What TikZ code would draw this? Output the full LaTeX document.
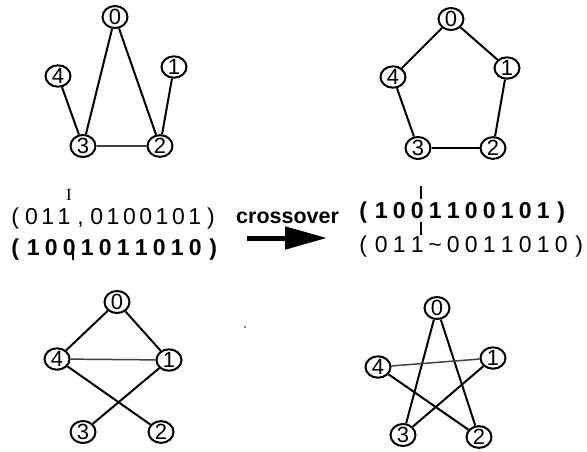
\documentclass[tikz,border=0pt]{standalone}
\usepackage{fontspec}
\setmainfont{Liberation Sans}
\newfontfamily\serifI{Liberation Serif}
\usetikzlibrary{arrows.meta,shapes.geometric}
\ExplSyntaxOn
\NewDocumentCommand\spreadchars{mm}{\tl_map_inline:nn{#2}{\makebox[#1][c]{##1}}}
\ExplSyntaxOff
\tikzset{
  vtx/.style={ellipse, draw, line width=2pt, minimum width=25pt, minimum height=20pt,
    inner sep=0pt, font=\fontsize{22}{22}\selectfont},
  edge/.style={line width=2pt},
  faint/.style={line width=1.5pt, black!75},
  bits/.style={inner sep=0pt, anchor=base west},
  lightbits/.style={bits, font=\fontsize{23}{23}\selectfont},
  boldbits/.style={bits, font=\bfseries\fontsize{23}{23}\selectfont},
  tick/.style={line width=1.8pt},
}
\begin{document}
\begin{tikzpicture}[x=1pt,y=-1pt]
\useasboundingbox (0,0) rectangle (587,451);
% ---- top-left graph
\node[vtx] (a0) at (115,17) {0};
\node[vtx] (a1) at (174,67) {1};
\node[vtx] (a2) at (160,146) {2};
\node[vtx] (a3) at (83,146) {3};
\node[vtx] (a4) at (58,76) {4};
\draw[edge] (a0) -- (a3);
\draw[edge] (a0) -- (a2);
\draw[edge] (a4) -- (a3);
\draw[edge] (a1) -- (a2);
\draw[faint] (a3) -- (a2);
% ---- top-right graph
\node[vtx] (b0) at (451,19) {0};
\node[vtx] (b1) at (507,68) {1};
\node[vtx] (b2) at (493,148) {2};
\node[vtx] (b3) at (418,148) {3};
\node[vtx] (b4) at (393,77) {4};
\draw[edge] (b0) -- (b1);
\draw[edge] (b0) -- (b4);
\draw[edge] (b4) -- (b3);
\draw[edge] (b3) -- (b2);
\draw[edge] (b2) -- (b1);
% ---- bottom-left graph
\node[vtx] (c0) at (117,302) {0};
\node[vtx] (c1) at (169,360) {1};
\node[vtx] (c2) at (161,432) {2};
\node[vtx] (c3) at (83,432) {3};
\node[vtx] (c4) at (57,359) {4};
\draw[edge] (c0) -- (c4);
\draw[edge] (c0) -- (c1);
\draw[faint] (c4) -- (c1);
\draw[edge] (c4) -- (c2);
\draw[edge] (c1) -- (c3);
\fill (245,327) circle (0.8pt);
% ---- bottom-right graph
\node[vtx] (d0) at (437,308) {0};
\node[vtx] (d1) at (493,358) {1};
\node[vtx] (d2) at (479,437) {2};
\node[vtx] (d3) at (403,435) {3};
\node[vtx] (d4) at (378,367) {4};
\draw[edge] (d0) -- (d3);
\draw[edge] (d0) -- (d2);
\draw[faint] (d4) -- (d1);
\draw[edge] (d4) -- (d2);
\draw[edge] (d1) -- (d3);
% ---- strings
\node[lightbits] (l1) at (6.8,224) {\spreadchars{16.33pt}{(011,0100101)}};
\node[boldbits] (l2) at (6,255) {\spreadchars{18pt}{(1001011010)}};
\node[font=\serifI\fontsize{17}{17}\selectfont, inner sep=0pt] (lI) at (69,195) {I};
\coordinate (lt1) at (73,247);
\coordinate (lt2) at (73,260);
\draw[tick] (lt1) -- (lt2);
\node[font=\bfseries\fontsize{21.5}{21.5}\selectfont, inner sep=0pt, anchor=base west] (xo) at (236,223) {crossover};
\coordinate (as) at (247,238);
\coordinate (ae) at (327,238);
\draw[line width=5pt, -{Triangle[length=42pt,width=22pt]}] (as) -- (ae);
\node[boldbits] (r1) at (354,218) {\spreadchars{18pt}{(1001100101)}};
\node[lightbits] (r2) at (354,252) {\spreadchars{18pt}{(011\textasciitilde0011010)}};
\coordinate (rt1) at (421,186);
\coordinate (rt2) at (421,199);
\coordinate (rt3) at (421,222);
\coordinate (rt4) at (421,235);
\draw[tick] (rt1) -- (rt2);
\draw[tick] (rt3) -- (rt4);
\end{tikzpicture}
\end{document}
